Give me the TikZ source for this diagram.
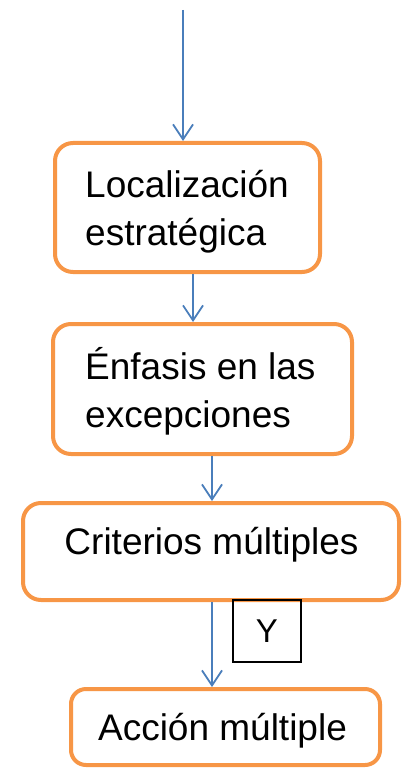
\documentclass[tikz,border=0pt]{standalone}
\usepackage{fontspec}
\setmainfont{Liberation Sans}
\usetikzlibrary{arrows.meta}
\definecolor{boxorange}{HTML}{F79646}
\definecolor{lineblue}{HTML}{4A7EBB}
\begin{document}
\begin{tikzpicture}[x=1pt,y=-1pt,
  box/.style={draw=boxorange, line width=4pt, rounded corners=18pt, fill=white, inner sep=0pt},
  lbl/.style={anchor=base west, inner sep=0pt, font=\fontsize{37}{48}\selectfont},
  arr/.style={draw=lineblue, line width=1.8pt, -{Straight Barb[length=15pt,width=20pt,line width=1.8pt]}},
  ybox/.style={draw=black, line width=1.5pt, inner sep=0pt, minimum width=68pt, minimum height=62pt, font=\fontsize{33}{40}\selectfont}
]
\useasboundingbox (0,0) rectangle (412,770);
\node[box, minimum width=265pt, minimum height=129pt] (b1) at (187.5,207.5) {};
\node[box, minimum width=299pt, minimum height=130pt] (b2) at (202.5,389) {};
\node[box, minimum width=376pt, minimum height=97pt] (b3) at (211,551.5) {};
\node[box, minimum width=309pt, minimum height=76pt, rounded corners=15pt] (b4) at (225.5,727) {};

\node[lbl] (t1a) at (85,197) {Localización};
\node[lbl] (t1b) at (85,245) {estratégica};
\node[lbl] (t2a) at (85,379) {Énfasis en las};
\node[lbl] (t2b) at (85,427) {excepciones};
\node[lbl, anchor=base] (t3) at (211.5,554) {Criterios múltiples};
\node[lbl, anchor=base] (t4) at (222.5,740) {Acción múltiple};

\node[ybox] (y) at (267,631) {Y};

\coordinate (start) at (183,10);
\draw[arr] (start) -- (start |- b1.north);
\coordinate (c2) at (193,0);
\draw[arr] (c2 |- b1.south) -- (c2 |- b2.north);
\coordinate (c3) at (212,0);
\draw[arr] (c3 |- b2.south) -- (c3 |- b3.north);
\draw[arr] (c3 |- b3.south) -- (c3 |- b4.north);
\end{tikzpicture}
\end{document}
